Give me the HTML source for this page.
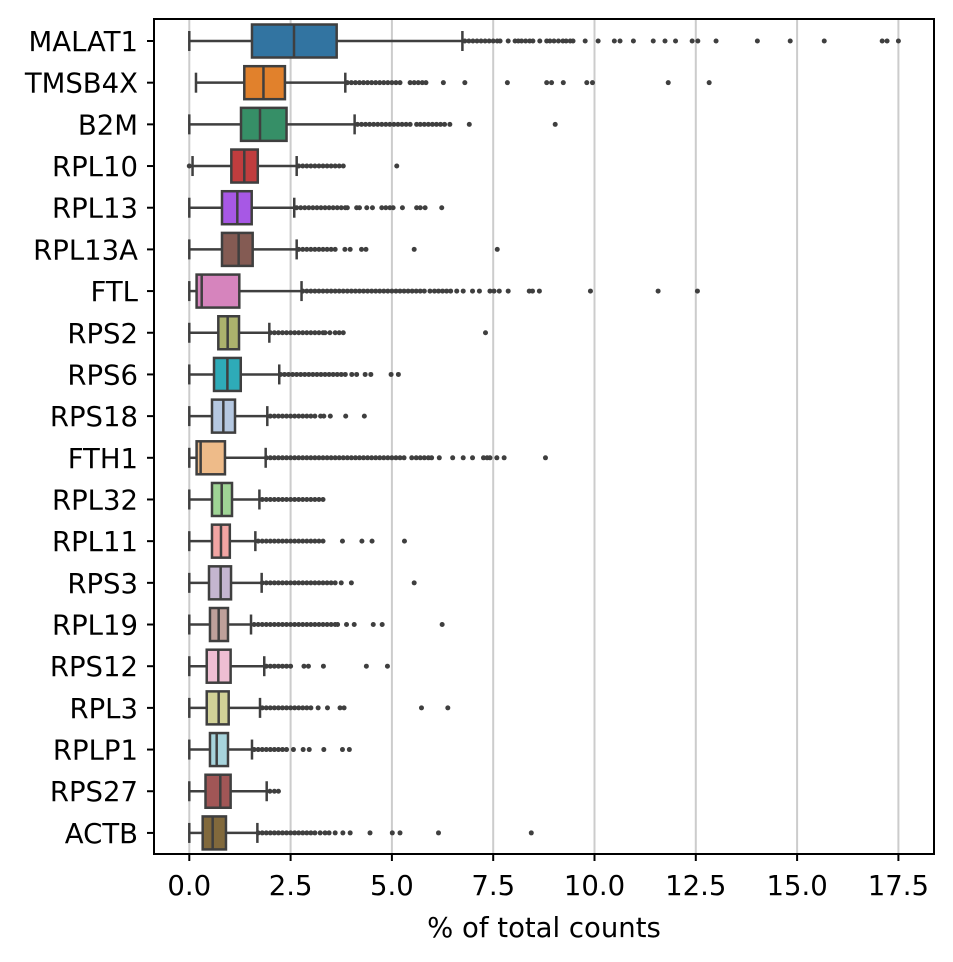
<!DOCTYPE html>
<html><head><meta charset="utf-8"><style>
html,body{margin:0;padding:0;background:#fff;}
svg{display:block;font-family:"DejaVu Sans","Liberation Sans",sans-serif;}
</style></head><body>
<svg id="chart" width="953" height="962" viewBox="0 0 953 962" xmlns="http://www.w3.org/2000/svg"></svg>
<script>
const genes=["MALAT1","TMSB4X","B2M","RPL10","RPL13","RPL13A","FTL","RPS2","RPS6","RPS18","FTH1","RPL32","RPL11","RPS3","RPL19","RPS12","RPL3","RPLP1","RPS27","ACTB"];
const whiskerLo=[0,0.165,0,0.08,0,0,0,0,0,0,0,0,0,0,0,0,0,0,0,0];
const q1s=[1.547,1.357,1.276,1.037,0.807,0.807,0.18,0.716,0.61,0.56,0.18,0.56,0.56,0.486,0.51,0.43,0.43,0.51,0.40,0.33];
const medians=[2.584,1.83,1.745,1.357,1.185,1.218,0.306,0.947,0.94,0.84,0.28,0.80,0.782,0.774,0.725,0.716,0.725,0.676,0.765,0.577];
const q3s=[3.637,2.36,2.40,1.69,1.54,1.564,1.234,1.227,1.27,1.128,0.88,1.054,1.0,1.03,0.955,1.02,0.972,0.955,1.02,0.905];
const whiskerHi=[6.74,3.85,4.08,2.65,2.59,2.65,2.77,1.975,2.22,1.925,1.885,1.73,1.63,1.786,1.523,1.85,1.745,1.547,1.91,1.68];
const outliers=[
[6.8,6.9,7.0,7.1,7.2,7.3,7.4,7.5,7.6,7.67,7.87,8.04,8.12,8.2,8.3,8.4,8.48,8.65,8.82,8.9,9.0,9.11,9.22,9.3,9.4,9.47,9.77,10.09,10.49,10.63,10.96,11.45,11.74,12.0,12.41,12.55,13.0,14.02,14.83,15.67,17.1,17.22,17.5],
[3.9,4.0,4.1,4.2,4.3,4.4,4.5,4.6,4.7,4.8,4.9,5.0,5.1,5.2,5.45,5.55,5.65,5.75,5.84,6.27,6.8,7.85,8.82,8.94,9.23,9.81,9.95,11.82,12.83],
[4.15,4.25,4.35,4.45,4.55,4.65,4.75,4.85,4.95,5.05,5.15,5.25,5.35,5.45,5.61,5.7,5.8,5.9,6.0,6.1,6.2,6.3,6.43,6.91,9.03],
[0.0,2.7,2.8,2.9,3.0,3.1,3.2,3.3,3.4,3.5,3.6,3.7,3.8,5.12],
[2.65,2.75,2.85,2.95,3.05,3.15,3.25,3.35,3.45,3.55,3.65,3.75,3.85,3.9,4.13,4.2,4.38,4.52,4.75,4.85,4.95,5.03,5.26,5.61,5.7,5.82,6.23],
[2.7,2.8,2.9,3.0,3.1,3.2,3.3,3.4,3.5,3.6,3.84,3.97,4.25,4.36,5.55,7.6],
[2.8,2.9,3.0,3.1,3.2,3.3,3.4,3.5,3.6,3.7,3.8,3.9,4.0,4.1,4.2,4.3,4.4,4.5,4.6,4.7,4.8,4.9,5.0,5.1,5.2,5.3,5.4,5.5,5.6,5.7,5.8,5.94,6.05,6.15,6.25,6.35,6.45,6.6,6.76,6.99,7.16,7.42,7.52,7.65,7.87,8.39,8.47,8.64,9.9,11.57,12.54],
[2.0,2.1,2.2,2.3,2.4,2.5,2.6,2.7,2.8,2.9,3.0,3.1,3.2,3.3,3.35,3.47,3.6,3.7,3.8,7.31],
[2.25,2.35,2.45,2.55,2.65,2.75,2.85,2.95,3.05,3.15,3.25,3.35,3.45,3.55,3.65,3.75,3.85,4.01,4.13,4.34,4.48,4.98,5.16],
[2.0,2.1,2.2,2.3,2.4,2.5,2.6,2.7,2.8,2.9,3.0,3.1,3.24,3.32,3.48,3.86,4.32],
[1.9,2.0,2.1,2.2,2.3,2.4,2.5,2.6,2.7,2.8,2.9,3.0,3.1,3.2,3.3,3.4,3.5,3.6,3.7,3.8,3.9,4.0,4.1,4.2,4.3,4.4,4.5,4.6,4.7,4.8,4.9,5.0,5.1,5.2,5.3,5.49,5.6,5.7,5.8,5.9,5.98,6.17,6.5,6.76,6.99,7.26,7.35,7.42,7.59,7.77,8.79],
[1.8,1.9,2.0,2.1,2.2,2.3,2.4,2.5,2.6,2.7,2.8,2.9,3.0,3.1,3.2,3.3],
[1.7,1.8,1.9,2.0,2.1,2.2,2.3,2.4,2.5,2.6,2.7,2.8,2.9,3.0,3.1,3.2,3.3,3.78,4.26,4.51,5.31],
[1.8,1.9,2.0,2.1,2.2,2.3,2.4,2.5,2.6,2.7,2.8,2.9,3.0,3.1,3.2,3.3,3.4,3.5,3.6,3.75,4.0,5.55],
[1.6,1.7,1.8,1.9,2.0,2.1,2.2,2.3,2.4,2.5,2.6,2.7,2.8,2.9,3.0,3.1,3.2,3.3,3.4,3.5,3.6,3.66,3.88,4.07,4.54,4.76,6.24],
[1.9,2.0,2.1,2.2,2.3,2.4,2.5,2.83,2.94,3.31,4.37,4.89],
[1.8,1.9,2.0,2.1,2.2,2.3,2.4,2.5,2.6,2.7,2.8,2.9,3.0,3.18,3.41,3.72,3.82,5.73,6.38],
[1.6,1.7,1.8,1.9,2.0,2.1,2.2,2.3,2.4,2.57,2.81,2.96,3.32,3.78,3.95],
[1.99,2.1,2.2],
[1.7,1.8,1.9,2.0,2.1,2.2,2.3,2.4,2.5,2.6,2.7,2.8,2.9,3.0,3.1,3.23,3.35,3.45,3.6,3.79,3.97,4.46,5.01,5.2,6.15,8.44]
];
const tickValues=[0,2.5,5,7.5,10,12.5,15,17.5];
const tickLabels=["0.0","2.5","5.0","7.5","10.0","12.5","15.0","17.5"];
const palette=['#1f77b4','#ff7f0e','#279e68','#d62728','#aa40fc','#8c564b','#e377c2','#b5bd61','#17becf','#aec7e8','#ffbb78','#98df8a','#ff9896','#c5b0d5','#c49c94','#f7b6d2','#dbdb8d','#9edae5','#ad494a','#8c6d31'];

const L=154,R=934,T=19,B=854;
function xScale(v){return 189.3+v*40.52;}
function yScale(i){return 41+i*41.68;}
const NS="http://www.w3.org/2000/svg";
const svg=document.getElementById('chart');
function el(tag,attrs,parent){const e=document.createElementNS(NS,tag);for(const k in attrs)e.setAttribute(k,attrs[k]);(parent||svg).appendChild(e);return e;}
function desat(hex,f){
  let r=parseInt(hex.substr(1,2),16)/255,g=parseInt(hex.substr(3,2),16)/255,b=parseInt(hex.substr(5,2),16)/255;
  const mx=Math.max(r,g,b),mn=Math.min(r,g,b);let h=0,s=0;const l=(mx+mn)/2;
  if(mx!==mn){const d=mx-mn;s=l>0.5?d/(2-mx-mn):d/(mx+mn);
    if(mx===r)h=((g-b)/d+(g<b?6:0));else if(mx===g)h=(b-r)/d+2;else h=(r-g)/d+4;h/=6;}
  s*=f;
  function hue(p,q,t){if(t<0)t+=1;if(t>1)t-=1;if(t<1/6)return p+(q-p)*6*t;if(t<1/2)return q;if(t<2/3)return p+(q-p)*(2/3-t)*6;return p;}
  let rr,gg,bb;if(s===0){rr=gg=bb=l;}else{const q=l<0.5?l*(1+s):l+s-l*s,p=2*l-q;rr=hue(p,q,h+1/3);gg=hue(p,q,h);bb=hue(p,q,h-1/3);}
  return 'rgb('+Math.round(rr*255)+','+Math.round(gg*255)+','+Math.round(bb*255)+')';
}

// plot background
const bg=el('rect',{x:L,y:T,width:R-L,height:B-T,fill:'#fff'});



// gridlines
tickValues.forEach((v,k)=>{
  const g=el('line',{x1:xScale(v),x2:xScale(v),y1:T,y2:B,stroke:'#cccccc','stroke-width':2});
  
  
});

const ink='#3f3f3f';
genes.forEach((gname,i)=>{
  const yc=yScale(i),h=33;
  const grp=el('g',{});
  
  
  el('line',{x1:xScale(whiskerLo[i]),x2:xScale(q1s[i]),y1:yc,y2:yc,stroke:ink,'stroke-width':2.5},grp);
  el('line',{x1:xScale(q3s[i]),x2:xScale(whiskerHi[i]),y1:yc,y2:yc,stroke:ink,'stroke-width':2.5},grp);
  el('line',{x1:xScale(whiskerLo[i]),x2:xScale(whiskerLo[i]),y1:yc-10,y2:yc+10,stroke:ink,'stroke-width':2.5},grp);
  el('line',{x1:xScale(whiskerHi[i]),x2:xScale(whiskerHi[i]),y1:yc-10,y2:yc+10,stroke:ink,'stroke-width':2.5},grp);
  el('rect',{x:xScale(q1s[i]),y:yc-h/2,width:xScale(q3s[i])-xScale(q1s[i]),height:h,fill:desat(palette[i],0.75),stroke:ink,'stroke-width':2.5},grp);
  el('line',{x1:xScale(medians[i]),x2:xScale(medians[i]),y1:yc-h/2,y2:yc+h/2,stroke:ink,'stroke-width':2.5},grp);
  outliers[i].forEach(v=>{el('circle',{cx:xScale(v),cy:yc,r:2.5,fill:ink},grp);});
  // y tick + label
  el('line',{x1:L-7,x2:L,y1:yc,y2:yc,stroke:'#000','stroke-width':2});
  const t=el('text',{x:138,y:yc+10,'text-anchor':'end','font-size':27.5,fill:'#000'});
  t.textContent=gname;
  
  
});

// x ticks
tickValues.forEach((v,k)=>{
  el('line',{x1:xScale(v),x2:xScale(v),y1:B,y2:B+7,stroke:'#000','stroke-width':2});
  const t=el('text',{x:xScale(v),y:895,'text-anchor':'middle','font-size':27.5,fill:'#000'});
  t.textContent=tickLabels[k];
  
  
});

// axes frame
const frame=el('rect',{x:L,y:T,width:R-L,height:B-T,fill:'none',stroke:'#000','stroke-width':2});



const xl=el('text',{x:544,y:937,'text-anchor':'middle','font-size':27.5,fill:'#000'});
xl.textContent='% of total counts';


</script>
</body></html>
